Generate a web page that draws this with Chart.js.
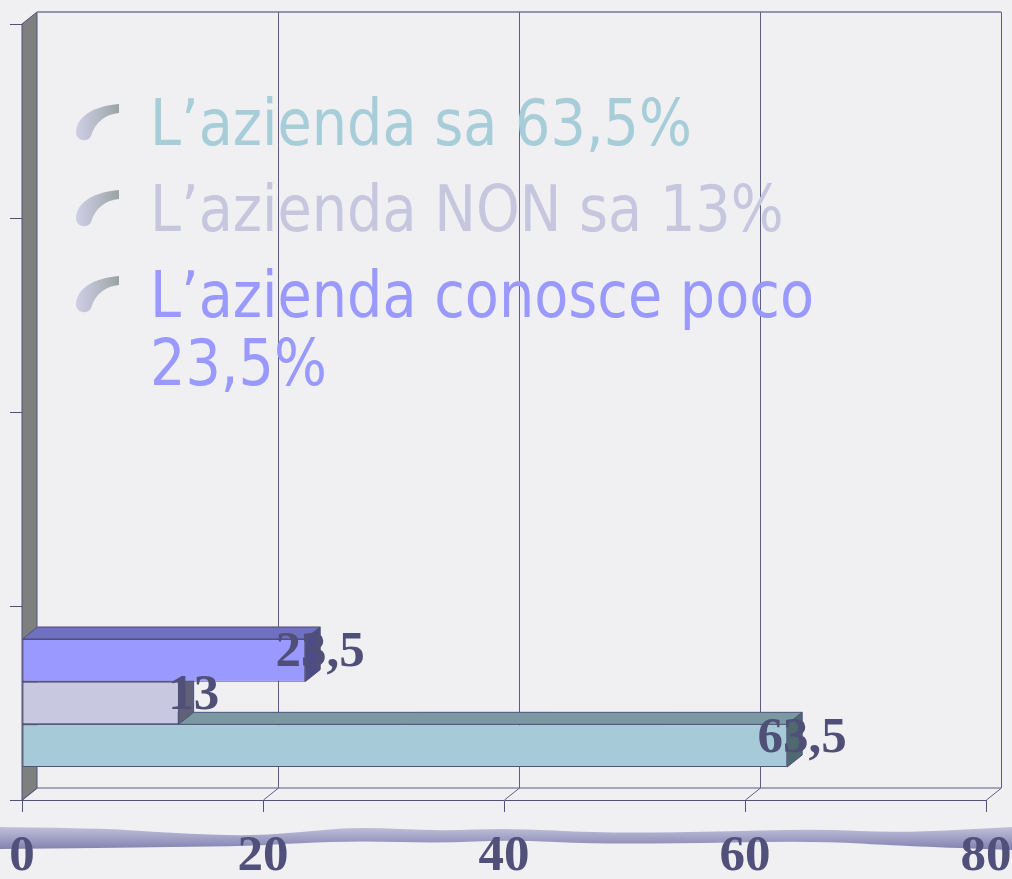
<!DOCTYPE html>
<html lang="it">
<head>
<meta charset="utf-8">
<title>Conoscenza dell'azienda</title>
<script src="https://cdn.jsdelivr.net/npm/chart.js@4/dist/chart.umd.min.js"></script>
<style>
  html, body { margin: 0; padding: 0; background: #f0f0f2; }
  #wrap { position: relative; width: 1012px; height: 879px; overflow: hidden; }
  #chart { position: absolute; left: 0; top: 0; }
  .item {
    position: absolute; left: 150px; margin: 0; white-space: nowrap;
    font-family: "DejaVu Sans", sans-serif; font-size: 64px; line-height: 64px;
    transform: scaleX(0.87); transform-origin: left top;
  }
  .bullet { position: absolute; left: 75px; width: 44px; height: 38px; }
</style>
</head>
<body>
<div id="wrap">
  <canvas id="chart" width="1012" height="879"></canvas>
</div>
<script>
// --- data ---
const categories = ['', ' ', '  ', 'Risposte'];   // 4 slots on the category axis, bars sit in the last one
const seriesNames = ['L’azienda conosce poco', 'L’azienda NON sa', 'L’azienda sa'];
const seriesValues = [23.5, 13, 63.5];
const xTicks = [0, 20, 40, 60, 80];

// legend lines as written above the chart (top to bottom)
const legendLines = [
  { text: ['L’azienda sa 63,5%'], color: '#a6cdd8', baseline: 145 },
  { text: ['L’azienda NON sa 13%'], color: '#c6c6de', baseline: 231 },
  { text: ['L’azienda conosce poco', '23,5%'], color: '#9999ff', baseline: 317 }
];

// styles
const frontColors = ['#9999ff', '#c8c8e0', '#a6cad8'];
const topColors = ['#7070c0', '#9c9cb8', '#7a99a3'];
const sideColors = ['#4c4c86', '#606078', '#4e6a70'];
const edgeColor = '#50507a';
const depthX = 15, depthY = -12;

function fmt(v) { return String(v).replace('.', ','); }

function poly(ctx, pts, fill, stroke) {
  ctx.beginPath();
  ctx.moveTo(pts[0][0], pts[0][1]);
  for (let i = 1; i < pts.length; i++) ctx.lineTo(pts[i][0], pts[i][1]);
  ctx.closePath();
  if (fill) { ctx.fillStyle = fill; ctx.fill(); }
  if (stroke) { ctx.strokeStyle = stroke; ctx.lineWidth = 1; ctx.stroke(); }
}

// wavy band of the slide template, below the axis
const waveTop = [[0, 827], [100, 828], [170, 833], [250, 836], [300, 832], [360, 827], [440, 831], [510, 828], [600, 833], [700, 832], [820, 829], [900, 833], [1012, 827]];
const waveBottom = [[1012, 850], [900, 846], [820, 841], [700, 843], [600, 844], [510, 840], [440, 843], [360, 841], [300, 843], [250, 846], [170, 847], [100, 848], [0, 849]];

function smoothPath(ctx, pts, start) {
  if (start) ctx.moveTo(pts[0][0], pts[0][1]); else ctx.lineTo(pts[0][0], pts[0][1]);
  for (let i = 1; i < pts.length - 1; i++) {
    const mx = (pts[i][0] + pts[i + 1][0]) / 2, my = (pts[i][1] + pts[i + 1][1]) / 2;
    ctx.quadraticCurveTo(pts[i][0], pts[i][1], mx, my);
  }
  const last = pts[pts.length - 1];
  ctx.lineTo(last[0], last[1]);
}

const chart3d = {
  id: 'chart3d',
  beforeDraw(chart) {
    const ctx = chart.ctx;
    ctx.save();
    const g = ctx.createLinearGradient(0, 827, 0, 849);
    g.addColorStop(0, '#c0c0da');
    g.addColorStop(1, '#8282b2');
    ctx.beginPath();
    smoothPath(ctx, waveTop, true);
    smoothPath(ctx, waveBottom, false);
    ctx.closePath();
    ctx.fillStyle = g;
    ctx.fill();
    ctx.restore();
  },
  beforeDatasetsDraw(chart) {
    const { ctx, chartArea: a, scales } = chart;
    const x = scales.x;
    ctx.save();
    // left wall
    poly(ctx, [[a.left, a.top], [a.left + depthX, a.top + depthY], [a.left + depthX, a.bottom + depthY], [a.left, a.bottom]], '#7f7f80', edgeColor);
    // back wall
    ctx.strokeStyle = '#9494ac';
    ctx.lineWidth = 2;
    ctx.beginPath();
    ctx.moveTo(a.left + depthX, a.top + depthY);
    ctx.lineTo(a.right + depthX, a.top + depthY);
    ctx.stroke();
    ctx.lineWidth = 1;
    ctx.strokeStyle = '#5c5c84';
    ctx.beginPath();
    ctx.moveTo(a.left + depthX, a.bottom + depthY);
    ctx.lineTo(a.right + depthX, a.bottom + depthY);
    ctx.stroke();
    // grid lines on the back wall, run down to the floor edge
    x.ticks.forEach(t => {
      const px = Math.round(x.getPixelForValue(t.value)) + 0.5;
      ctx.beginPath();
      if (t.value !== 0) {
        ctx.moveTo(px + depthX, a.top + depthY);
        ctx.lineTo(px + depthX, a.bottom + depthY);
      } else {
        ctx.moveTo(px + depthX, a.bottom + depthY);
      }
      ctx.lineTo(px, a.bottom);
      ctx.stroke();
    });
    // top and side faces of the bars, bottom bar first
    for (let d = chart.data.datasets.length - 1; d >= 0; d--) {
      const meta = chart.getDatasetMeta(d);
      meta.data.forEach(bar => {
        const p = bar.getProps(['x', 'y', 'base', 'height'], true);
        const top = p.y - p.height / 2, bottom = p.y + p.height / 2;
        poly(ctx, [[p.base, top], [p.base + depthX, top + depthY], [p.x + depthX, top + depthY], [p.x, top]], topColors[d], edgeColor);
        poly(ctx, [[p.x, top], [p.x + depthX, top + depthY], [p.x + depthX, bottom + depthY], [p.x, bottom]], sideColors[d], edgeColor);
      });
    }
    ctx.restore();
  },
  afterDatasetsDraw(chart) {
    const ctx = chart.ctx;
    ctx.save();
    ctx.font = 'bold 51px "Liberation Serif", "Times New Roman", serif';
    ctx.fillStyle = '#4f4f78';
    ctx.textAlign = 'center';
    ctx.textBaseline = 'middle';
    chart.data.datasets.forEach((ds, d) => {
      chart.getDatasetMeta(d).data.forEach((bar, i) => {
        const v = ds.data[i].x;
        ctx.fillText(fmt(v), bar.x + depthX, bar.y - 7);
      });
    });
    ctx.restore();
  }
};

document.addEventListener('DOMContentLoaded', function() {
  const wrap = document.getElementById('wrap');

  // legend text written as a bullet list over the chart
  legendLines.forEach(item => {
    const b = document.createElementNS('http://www.w3.org/2000/svg', 'svg');
    b.setAttribute('class', 'bullet');
    b.setAttribute('viewBox', '0 0 44 38');
    b.style.top = (item.baseline - 42) + 'px';
    b.innerHTML = '<defs><linearGradient id="bg' + item.baseline + '" x1="0" y1="0" x2="1" y2="0">' +
      '<stop offset="0" stop-color="#cfcfe6"/><stop offset="0.55" stop-color="#b4b8c4"/><stop offset="1" stop-color="#98a4a2"/></linearGradient></defs>' +
      '<path d="M1,30 C1,14 18,3 44,1 L44,10 C31,11 20,19 16,33 C14,39 2,39 1,30 Z" fill="url(#bg' + item.baseline + ')"/>';
    wrap.appendChild(b);
    item.text.forEach((line, k) => {
      const p = document.createElement('div');
      p.className = 'item';
      p.textContent = line;
      p.style.color = item.color;
      p.style.top = (item.baseline + k * 68 - 54) + 'px';
      wrap.appendChild(p);
    });
  });

  const ctx = document.getElementById('chart');
  new Chart(ctx, {
    type: 'bar',
    data: {
      labels: categories,
      datasets: seriesNames.map((name, i) => ({
        label: name,
        data: [{ x: seriesValues[i], y: categories[categories.length - 1] }],
        backgroundColor: frontColors[i],
        borderColor: edgeColor,
        borderWidth: 1,
        borderSkipped: false,
        categoryPercentage: 0.66,
        barPercentage: 1.0
      }))
    },
    options: {
      indexAxis: 'y',
      responsive: false,
      animation: false,
      layout: { padding: { top: 24, right: 26, left: 0, bottom: 0 } },
      plugins: { legend: { display: false }, tooltip: { enabled: false } },
      scales: {
        x: {
          type: 'linear',
          min: xTicks[0],
          max: xTicks[xTicks.length - 1],
          afterBuildTicks: scale => { scale.ticks = xTicks.map(v => ({ value: v })); },
          afterFit: scale => { scale.height = 79; scale.paddingLeft = 0; scale.paddingRight = 0; },
          grid: { drawOnChartArea: false, drawTicks: true, tickLength: 12, color: edgeColor },
          border: { display: true, color: edgeColor },
          ticks: {
            padding: 14,
            color: '#50507a',
            font: { family: '"Liberation Serif", "Times New Roman", serif', size: 51, weight: 'bold' }
          }
        },
        y: {
          type: 'category',
          afterFit: scale => { scale.width = 22; scale.paddingTop = 0; scale.paddingBottom = 0; },
          grid: { offset: true, drawOnChartArea: false, drawTicks: true, tickLength: 12, color: edgeColor },
          border: { display: true, color: edgeColor },
          ticks: { display: false }
        }
      }
    },
    plugins: [chart3d]
  });
});
</script>
</body>
</html>
